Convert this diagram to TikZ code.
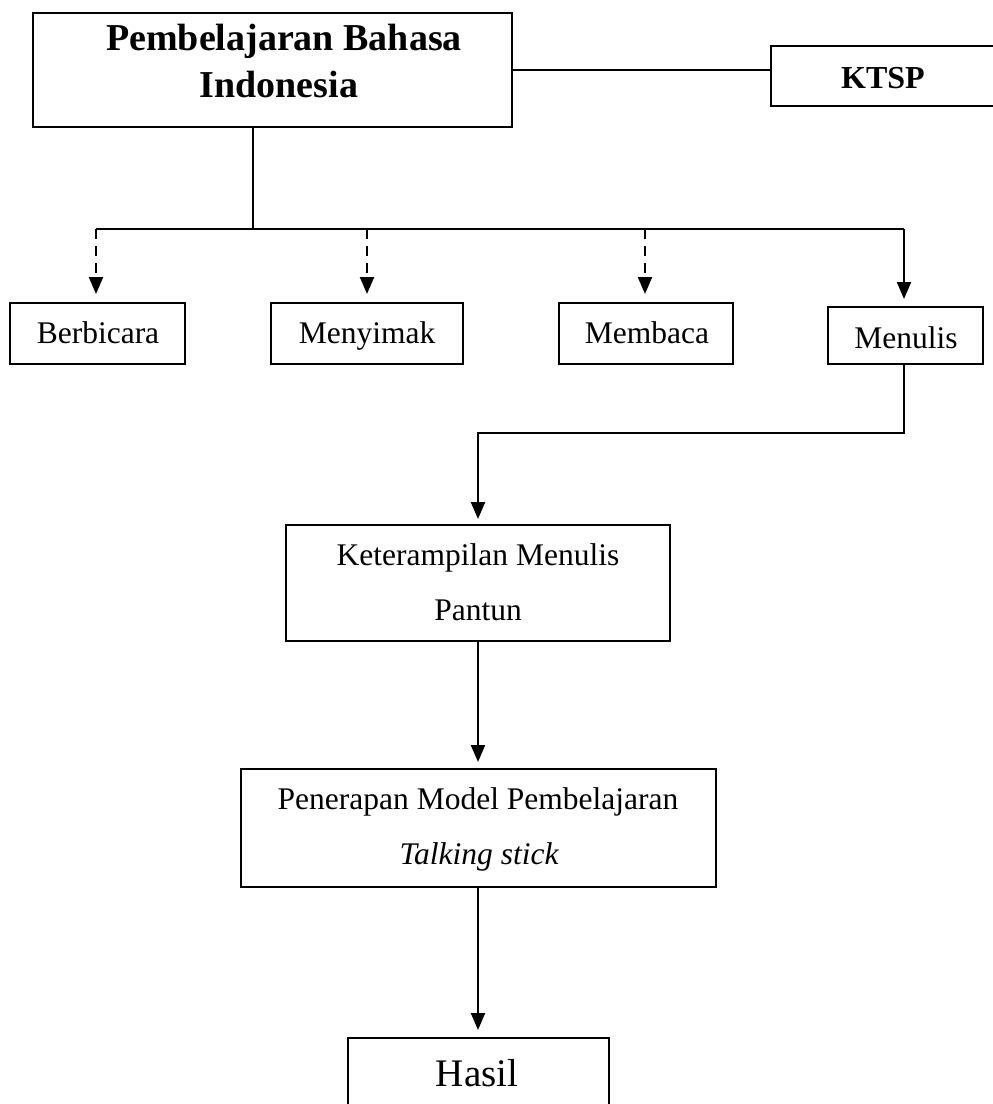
\documentclass[tikz,border=0pt]{standalone}
\usepackage{fontspec}
\setmainfont{Liberation Serif}
\usetikzlibrary{arrows.meta}
\begin{document}
\begin{tikzpicture}[x=1pt,y=-1pt,
  box/.style={draw, line width=2pt, inner sep=0pt},
  txt/.style={inner sep=0pt, anchor=base, font=\fontsize{31.5}{34}\selectfont},
  btxt/.style={inner sep=0pt, anchor=base, font=\fontsize{38}{40}\selectfont\bfseries},
  conn/.style={line width=2.2pt},
  arr/.style={line width=2.2pt, -{Triangle[length=17pt,width=14pt]}},
  darr/.style={arr, dash pattern=on 10pt off 7pt}]
\clip (0,0) rectangle (993,1104);
\fill[white] (0,0) rectangle (993,1104);
% boxes
\node[box, minimum width=479pt, minimum height=114pt] (top) at (272.5,70) {};
\node[box, minimum width=226pt, minimum height=60pt] (ktsp) at (884,76) {};
\node[box, minimum width=175pt, minimum height=61pt] (berb) at (97,333.5) {};
\node[box, minimum width=192pt, minimum height=61pt] (meny) at (367,333.5) {};
\node[box, minimum width=174pt, minimum height=61pt] (memb) at (646,333.5) {};
\node[box, minimum width=155pt, minimum height=57pt] (menu) at (905.5,335.5) {};
\node[box, minimum width=384pt, minimum height=116pt] (ket) at (478,583) {};
\node[box, minimum width=475pt, minimum height=118pt] (pen) at (478.5,828) {};
\node[box, minimum width=261pt, minimum height=100pt] (has) at (478,1088) {};
% texts
\node[btxt] (topA) at (284,50) {Pembelajaran Bahasa};
\node[btxt] (topB) at (279,97) {Indonesia};
\node[btxt, font=\fontsize{32}{34}\selectfont\bfseries] (ktspT) at (883,88) {KTSP};
\node[txt] (berbT) at (98,343) {Berbicara};
\node[txt] (menyT) at (367,343) {Menyimak};
\node[txt] (membT) at (647,343) {Membaca};
\node[txt] (menuT) at (906,348) {Menulis};
\node[txt] (ketA) at (478,565) {Keterampilan Menulis};
\node[txt] (ketB) at (478,620) {Pantun};
\node[txt] (penA) at (478,809) {Penerapan Model Pembelajaran};
\node[txt] (penB) at (479,864) {\itshape Talking stick};
\node[txt, font=\fontsize{39}{42}\selectfont] (hasT) at (477,1086) {Hasil};
% connectors
\coordinate (b0) at (253,229);
\coordinate (b1) at (96,229);
\coordinate (b2) at (367,229);
\coordinate (b3) at (645,229);
\coordinate (b4) at (904,229);
\draw[conn] (top.east) -- (top.east -| ktsp.west);
\draw[conn] (top.south -| b0) -- (b0);
\draw[conn] (b1) -- (b4);
\draw[darr, shorten >=8pt] (b1) -- (berb.north -| b1);
\draw[darr, shorten >=8pt] (b2) -- (meny.north -| b2);
\draw[darr, shorten >=8pt] (b3) -- (memb.north -| b3);
\draw[arr, shorten >=7pt] (b4) -- (menu.north -| b4);
\coordinate (m1) at (904,433);
\coordinate (m2) at (478,433);
\draw[arr, shorten >=5pt] (menu.south -| m1) -- (m1) -- (m2) -- (ket.north -| m2);
\draw[arr, shorten >=6pt] (ket.south) -- (pen.north -| ket.south);
\draw[arr, shorten >=7pt] (pen.south -| has.north) -- (has.north);
\end{tikzpicture}
\end{document}
